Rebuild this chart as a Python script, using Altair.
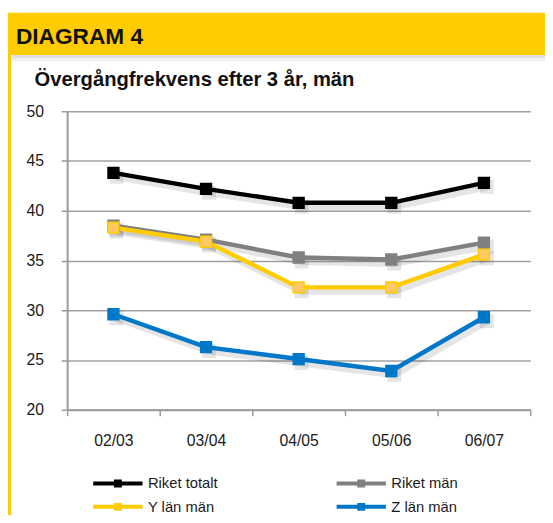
import altair as alt
import pandas as pd

years = ["02/03", "03/04", "04/05", "05/06", "06/07"]
series = ["Riket totalt", "Riket män", "Y län män", "Z län män"]
riket_totalt = [43.8, 42.2, 40.8, 40.8, 42.8]
riket_man = [38.5, 37.1, 35.3, 35.1, 36.8]
y_lan_man = [38.3, 36.9, 32.3, 32.3, 35.6]
z_lan_man = [29.6, 26.3, 25.1, 23.9, 29.3]
y_ticks = [20, 25, 30, 35, 40, 45, 50]

line_colors = ["#000000", "#808080", "#FFCC00", "#0077C8"]
fill_colors = ["#000000", "#808080", "#FFC966", "#0077C8"]

FONT = "Liberation Sans"

rows = []
for name, vals in zip(series, [riket_totalt, riket_man, y_lan_man, z_lan_man]):
    for yr, v in zip(years, vals):
        rows.append({"year": yr, "series": name, "value": v})
df = pd.DataFrame(rows)

x_enc = alt.X("year:N", sort=years,
              scale=alt.Scale(type="band", paddingInner=0, paddingOuter=0),
              axis=alt.Axis(title=None, labelAngle=0, tickBand="extent",
                            labelFontSize=16, labelFont=FONT, labelColor="#1a1a1a",
                            labelPadding=17, tickSize=6, tickColor="#9a9a9a",
                            tickWidth=1.5, domainColor="#9a9a9a", domainWidth=2,
                            grid=False))
y_enc = alt.Y("value:Q",
              scale=alt.Scale(domain=[20, 50], nice=False, zero=False),
              axis=alt.Axis(title=None, values=y_ticks, labelFontSize=16,
                            labelFont=FONT, labelColor="#1a1a1a", labelPadding=18,
                            tickSize=6, tickColor="#9a9a9a", tickWidth=1.5,
                            domainColor="#9a9a9a", domainWidth=2,
                            gridColor="#a0a0a0", gridWidth=1.5))

base = alt.Chart(df)

legend_symbol = "M-5,0H5M-0.4,-0.4H0.4V0.4H-0.4Z"

shadow_line = base.mark_line(strokeWidth=7, color="#000000", opacity=0.10,
                             xOffset=3, yOffset=4).encode(
    x=x_enc, y=y_enc, detail="series:N")
shadow_pts = base.mark_square(size=200, color="#000000", opacity=0.10,
                              xOffset=3, yOffset=4).encode(
    x=x_enc, y=y_enc)

lines = base.mark_line(strokeWidth=4.5).encode(
    x=x_enc, y=y_enc,
    color=alt.Color("series:N", sort=series,
                    scale=alt.Scale(domain=series, range=line_colors),
                    legend=alt.Legend(title=None, orient="none", legendX=44,
                                      legendY=370, columns=2, direction="horizontal",
                                      columnPadding=112,
                                      rowPadding=3, symbolType=legend_symbol,
                                      symbolSize=100, symbolStrokeWidth=4,
                                      labelFontSize=15, labelFont=FONT,
                                      labelColor="#1a1a1a", labelOffset=23)),
)
points = base.mark_square(size=121, strokeWidth=1.5, opacity=1).encode(
    x=x_enc, y=y_enc,
    fill=alt.Fill("series:N", scale=alt.Scale(domain=series, range=fill_colors),
                  legend=None),
    stroke=alt.Stroke("series:N", scale=alt.Scale(domain=series, range=line_colors),
                      legend=None),
)

one = pd.DataFrame({"d": [0]})
header = alt.Chart(one).mark_rect(color="#FFCC00").encode(
    x=alt.value(-61), x2=alt.value(490), y=alt.value(-100), y2=alt.value(-57))
header_shadow1 = alt.Chart(one).mark_rect(color="#000000", opacity=0.12).encode(
    x=alt.value(-56), x2=alt.value(490), y=alt.value(-57), y2=alt.value(-54))
header_shadow2 = alt.Chart(one).mark_rect(color="#000000", opacity=0.06).encode(
    x=alt.value(-56), x2=alt.value(490), y=alt.value(-54), y2=alt.value(-51))
left_bar = alt.Chart(one).mark_rect(color="#FFCC00").encode(
    x=alt.value(-61), x2=alt.value(-57), y=alt.value(-57), y2=alt.value(420))
head_text = alt.Chart(one).mark_text(
    text="DIAGRAM 4", align="left", baseline="alphabetic", font=FONT,
    fontSize=23, fontWeight="bold", color="#111111").encode(
    x=alt.value(-52), y=alt.value(-68))
sub_text = alt.Chart(one).mark_text(
    text="Övergångfrekvens efter 3 år, män", align="left", baseline="alphabetic",
    font=FONT, fontSize=20.5, fontWeight="bold", color="#111111").encode(
    x=alt.value(-33), y=alt.value(-26))

chart = alt.layer(
    header_shadow1, header_shadow2, header, left_bar, head_text, sub_text,
    shadow_line, shadow_pts, lines, points
).properties(
    width=470, height=303,
    autosize=alt.AutoSizeParams(type="none"),
    padding={"left": 60, "top": 101, "right": 15, "bottom": 103},
    background="white",
).configure_view(strokeWidth=0)

chart.save("out.html", embed_options={"renderer": "svg", "actions": False})
